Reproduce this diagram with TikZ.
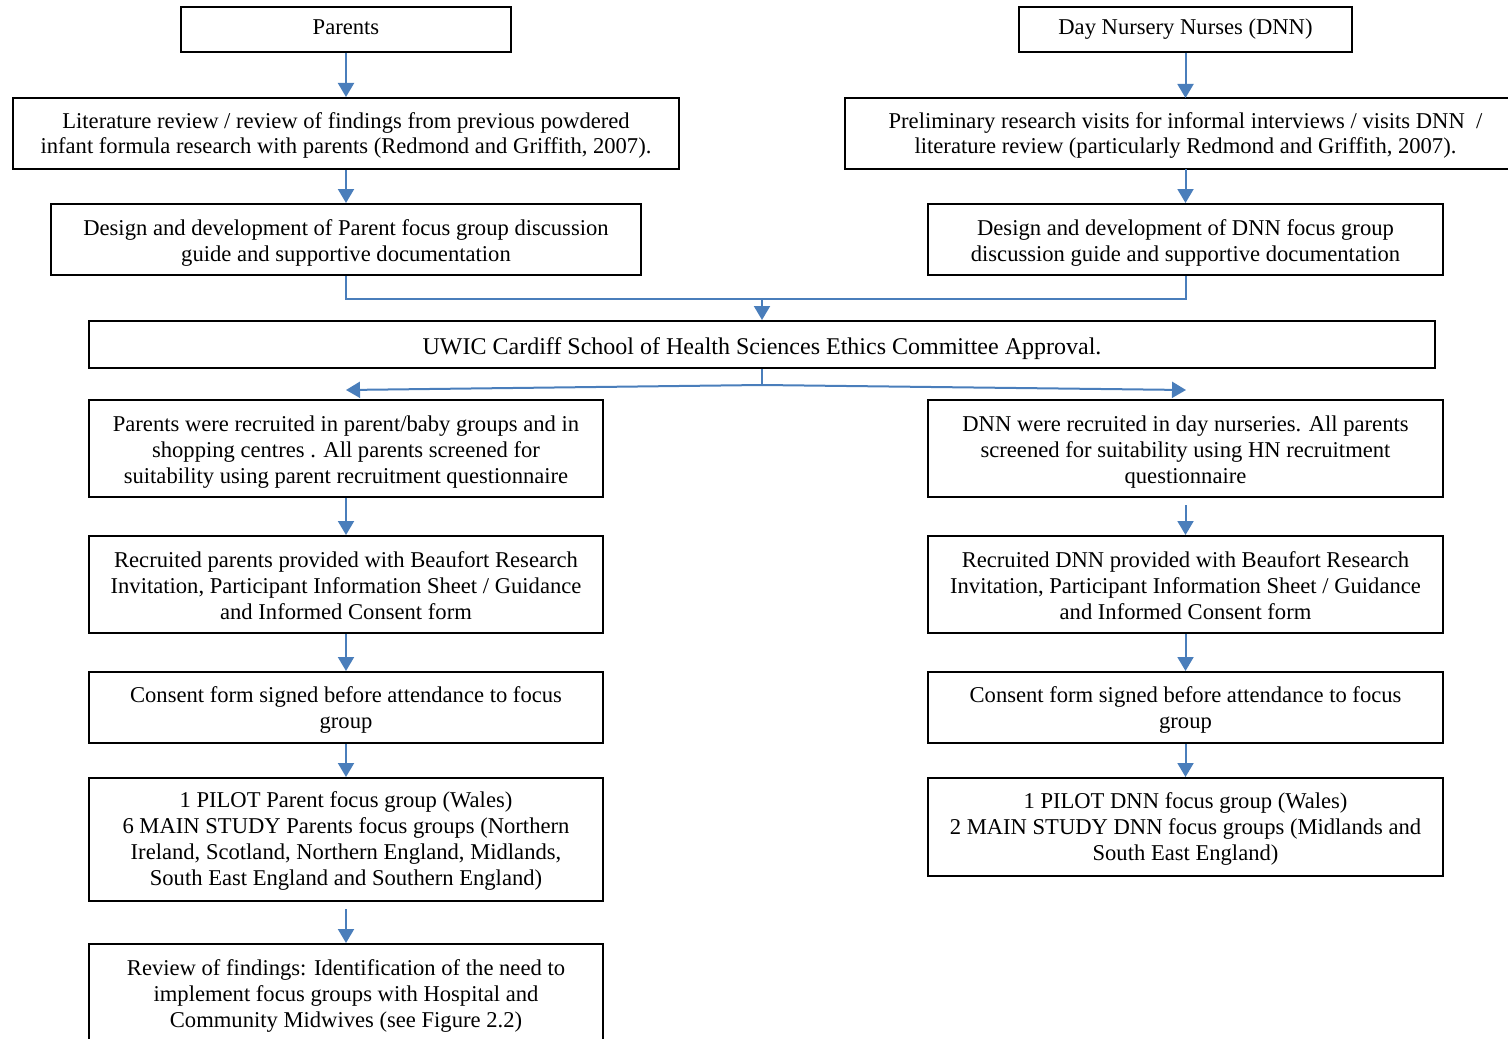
\documentclass[tikz,border=0pt]{standalone}
\usepackage{fontspec}
\setmainfont{Liberation Serif}
\usetikzlibrary{arrows.meta}
\definecolor{flowblue}{HTML}{4A7EBB}
\begin{document}
\begin{tikzpicture}[x=0.5pt,y=-0.5pt,
  box/.style={draw=black,line width=1pt,rectangle,inner sep=0pt,align=center,
    font=\fontsize{11.3}{13}\selectfont},
  th/.style={text height=#1,text depth=2.5pt},
  link/.style={draw=flowblue,line width=1pt},
  arr/.style={link,-{Triangle[width=8pt,length=7pt]}}]
\useasboundingbox (0,0) rectangle (1508,1038);
\clip (0,0) rectangle (1508,1038);

% left column: parents
\node[box,th=8pt,minimum width=165pt,minimum height=22.5pt] (par) at (346,29.5) {Parents};
\node[box,th=23pt,minimum width=333pt,minimum height=35.5pt] (lit) at (346,133.5)
  {Literature review / review of findings from previous powdered\\infant formula research with parents (Redmond and Griffith, 2007).};
\node[box,th=24.6pt,minimum width=295pt,minimum height=35.5pt] (desP) at (346,239.5)
  {Design and development of Parent focus group discussion\\guide and supportive documentation};

% right column: day nursery nurses
\node[box,th=8pt,minimum width=166.5pt,minimum height=22.5pt] (dnn) at (1185.5,29.5) {Day Nursery Nurses (DNN)};
\node[box,th=23pt,minimum width=340.5pt,minimum height=35.5pt] (pre) at (1185.5,133.5)
  {Preliminary research visits for informal interviews / visits DNN~ /\\literature review (particularly Redmond and Griffith, 2007).};
\node[box,th=24.6pt,minimum width=257.5pt,minimum height=35.5pt] (desD) at (1185.5,239.5)
  {Design and development of DNN focus group\\discussion guide and supportive documentation};

% ethics approval
\node[box,th=12pt,font=\fontsize{12}{13}\selectfont,minimum width=673pt,minimum height=23.5pt] (eth) at (762,344.5)
  {UWIC Cardiff School of Health Sciences Ethics Committee Approval.};

% recruitment and focus groups, parents
\node[box,th=37pt,minimum width=257pt,minimum height=48.5pt] (recP) at (346,448.5)
  {Parents were recruited in parent/baby groups and in\\shopping centres . All parents screened for\\suitability using parent recruitment questionnaire};
\node[box,th=37pt,minimum width=257pt,minimum height=48.5pt] (invP) at (346,584.5)
  {Recruited parents provided with Beaufort Research\\Invitation, Participant Information Sheet / Guidance\\and Informed Consent form};
\node[box,th=23pt,minimum width=257pt,minimum height=35.5pt] (conP) at (346,707.5)
  {Consent form signed before attendance to focus\\group};
\node[box,th=48pt,minimum width=257pt,minimum height=61.5pt] (pilP) at (346,839.5)
  {1 PILOT Parent focus group (Wales)\\6 MAIN STUDY Parents focus groups (Northern\\Ireland, Scotland, Northern England, Midlands,\\South East England and Southern England)};
\node[box,th=35.5pt,minimum width=257pt,minimum height=50pt] (rev) at (346,994)
  {Review of findings: Identification of the need to\\implement focus groups with Hospital and\\Community Midwives (see Figure 2.2)};

% recruitment and focus groups, DNN
\node[box,th=37pt,minimum width=257.5pt,minimum height=48.5pt] (recD) at (1185.5,448.5)
  {DNN were recruited in day nurseries. All parents\\screened for suitability using HN recruitment\\questionnaire};
\node[box,th=37pt,minimum width=257.5pt,minimum height=48.5pt] (invD) at (1185.5,584.5)
  {Recruited DNN provided with Beaufort Research\\Invitation, Participant Information Sheet / Guidance\\and Informed Consent form};
\node[box,th=23pt,minimum width=257.5pt,minimum height=35.5pt] (conD) at (1185.5,707.5)
  {Consent form signed before attendance to focus\\group};
\node[box,th=35.5pt,minimum width=257.5pt,minimum height=49pt] (pilD) at (1185.5,827)
  {1 PILOT DNN focus group (Wales)\\2 MAIN STUDY DNN focus groups (Midlands and\\South East England)};

% connectors
\draw[arr] (par.south) -- (lit.north);
\draw[arr] (lit.south) -- (desP.north);
\draw[arr] (dnn.south) -- (1185.5,98);
\draw[arr] (1185.5,169) -- (desD.north);

\coordinate (mergeL) at (346,299);
\coordinate (mergeR) at (1185.5,299);
\coordinate (mergeC) at (762,299);
\draw[link] (desP.south) -- (mergeL) -- (mergeR) -- (desD.south);
\draw[arr] (mergeC) -- (eth.north);

\coordinate (split) at (762,385);
\coordinate (tipL) at (346,390);
\coordinate (tipR) at (1186,390);
\draw[link] (eth.south) -- (split);
\draw[arr] (split) -- (tipL);
\draw[arr] (split) -- (tipR);

\draw[arr] (recP.south) -- (invP.north);
\draw[arr] (invP.south) -- (conP.north);
\draw[arr] (conP.south) -- (pilP.north);
\draw[arr] ([yshift=-3.5pt]pilP.south) -- (rev.north);

\draw[arr] ([yshift=-3.5pt]recD.south) -- (invD.north);
\draw[arr] (invD.south) -- (conD.north);
\draw[arr] (conD.south) -- (pilD.north);
\end{tikzpicture}
\end{document}
